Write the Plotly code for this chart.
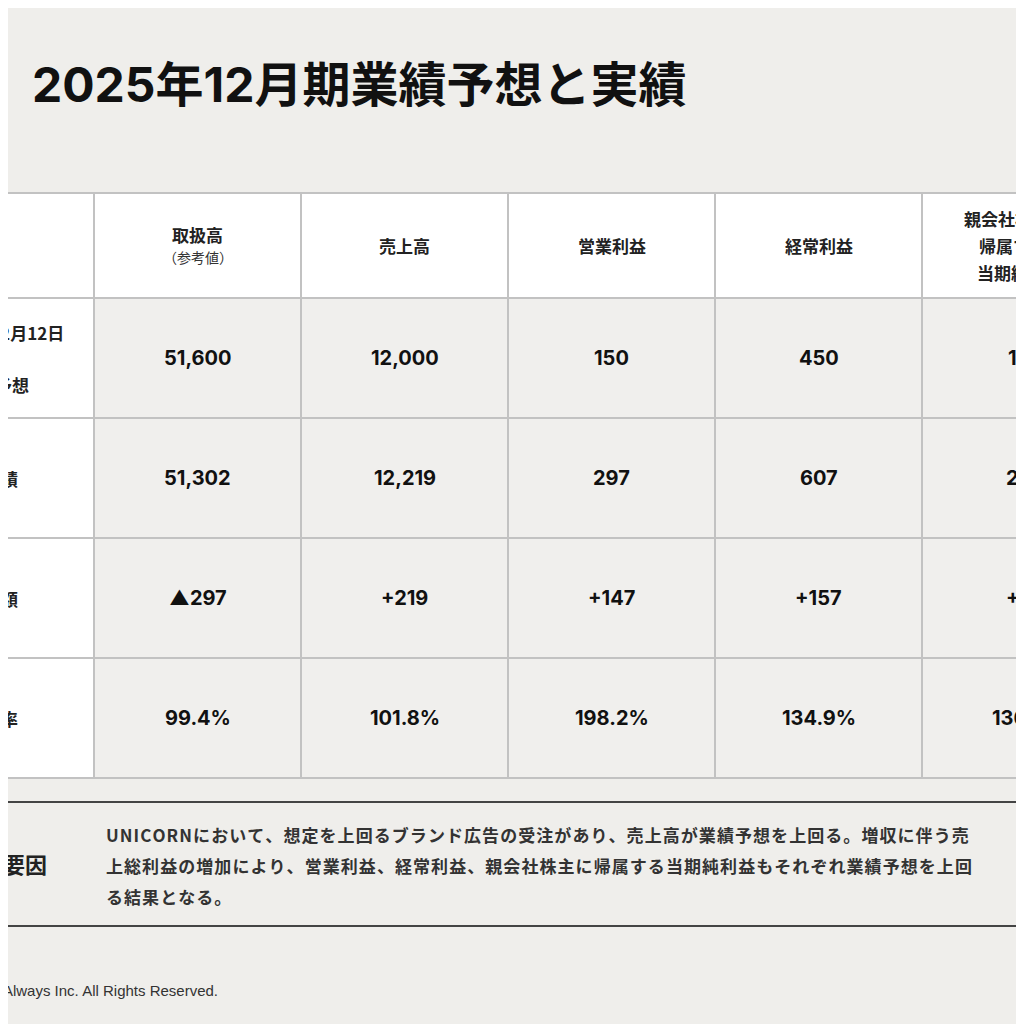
import plotly.graph_objects as go

title = "2025年12月期業績予想と実績"
col_headers = ["取扱高", "売上高", "営業利益", "経常利益", "親会社株主に帰属する当期純利益"]
row_labels = [["2025年2月12日", "開示", "業績予想"], ["実績"], ["増減額"], ["達成率"]]
forecast = ["51,600", "12,000", "150", "450", "180"]
actual = ["51,302", "12,219", "297", "607", "245"]
diff = ["▲297", "+219", "+147", "+157", "+65"]
rate = ["99.4%", "101.8%", "198.2%", "134.9%", "136.1%"]
factor_lines = ["UNICORNにおいて、想定を上回るブランド広告の受注があり、売上高が業績予想を上回る。増収に伴う売",
                "上総利益の増加により、営業利益、経常利益、親会社株主に帰属する当期純利益もそれぞれ業績予想を上回",
                "る結果となる。"]
footer = "© 2025 Always Inc. All Rights Reserved."

FONT = "Noto Sans CJK JP"
NUMFONT = "Inter, Noto Sans CJK JP"
col_x = [-120, 94, 301, 508, 715, 922, 1129]
row_y = [193, 298, 418, 538, 658, 778]
rows = [forecast, actual, diff, rate]


def spaced(s):
    return "\u200a".join(s)


fig = go.Figure()
shapes, ann = [], []
for r in range(5):
    for c in range(6):
        fill = "#f0efed" if (r > 0 and c > 0) else "#ffffff"
        shapes.append(dict(type="rect", x0=col_x[c], x1=col_x[c+1], y0=row_y[r], y1=row_y[r+1],
                           fillcolor=fill, line=dict(color="#c2c2c2", width=2), layer="below"))
for c, h in enumerate(col_headers[:4]):
    cx = (col_x[c+1] + col_x[c+2]) / 2
    if c == 0:
        ann.append(dict(x=cx, y=234, text=f"<b>{h}</b>", font=dict(size=17, color="#222")))
        ann.append(dict(x=cx, y=257, text="（参考値）", font=dict(size=14, color="#333")))
    else:
        ann.append(dict(x=cx, y=245, text=f"<b>{h}</b>", font=dict(size=17, color="#222")))
for t, x, y in [("親会社株主に", 962, 218), ("帰属する", 977, 245), ("当期純利益", 975, 272)]:
    ann.append(dict(x=x, y=y, text=f"<b>{t}</b>", xanchor="left", font=dict(size=17, color="#222")))
for r, lines in enumerate(row_labels):
    cy = (row_y[r+1] + row_y[r+2]) / 2
    if len(lines) == 3:
        for i, (t, e) in enumerate(zip(lines, [66, 10, 31])):
            ann.append(dict(x=e, y=cy - 26 + 26 * i, text=f"<b>{t}</b>", xanchor="right",
                            font=dict(size=17, color="#222")))
    else:
        ann.append(dict(x=20, y=cy, text=f"<b>{lines[0]}</b>", xanchor="right", font=dict(size=17, color="#222")))
for r, vals in enumerate(rows):
    cy = (row_y[r+1] + row_y[r+2]) / 2
    for c, v in enumerate(vals):
        ann.append(dict(x=(col_x[c+1] + col_x[c+2]) / 2, y=cy, text=f"<b>{v}</b>",
                        font=dict(size=20, color="#111", family=NUMFONT)))
shapes.append(dict(type="line", x0=-20, x1=1100, y0=802, y1=802, line=dict(color="#444", width=2)))
shapes.append(dict(type="line", x0=-20, x1=1100, y0=926, y1=926, line=dict(color="#444", width=2)))
ann.append(dict(x=49, y=863, text="<b>要因</b>", xanchor="right", font=dict(size=22, color="#222")))
for i, t in enumerate(factor_lines):
    ann.append(dict(x=104, y=834 + 31 * i, text=f"<b>{spaced(t)}</b>", xanchor="left",
                    font=dict(size=17, color="#333")))
ann.append(dict(x=688, y=84, text=f"<b>{title}</b>", xanchor="right",
                font=dict(size=48, color="#111", family=NUMFONT)))
ann.append(dict(x=220, y=990, text=footer, xanchor="right", font=dict(size=15, color="#333", family="Liberation Sans")))

for a in ann:
    a.setdefault("xanchor", "center")
    a.update(xref="x", yref="y", showarrow=False, yanchor="middle")
    a["font"].setdefault("family", FONT)

fig.update_layout(width=1024, height=1024, margin=dict(l=0, r=0, t=0, b=0),
                  paper_bgcolor="#efeeeb", plot_bgcolor="#efeeeb",
                  xaxis=dict(range=[8, 1032], visible=False, fixedrange=True),
                  yaxis=dict(range=[1032, 8], visible=False, fixedrange=True),
                  shapes=shapes, annotations=ann, showlegend=False)
fig.write_html("out.html")
